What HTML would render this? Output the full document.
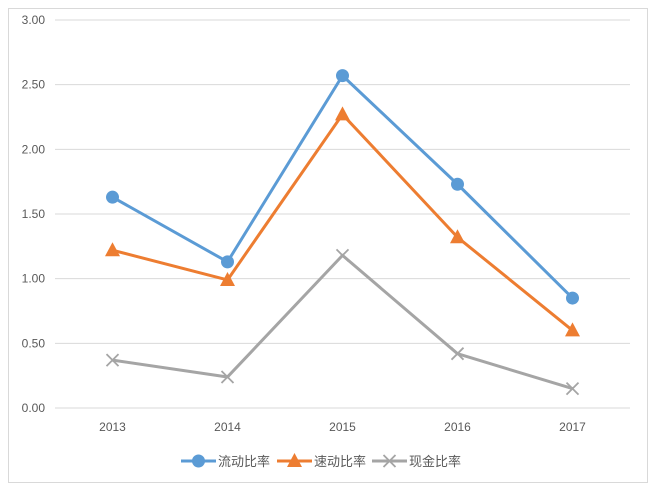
<!DOCTYPE html>
<html><head><meta charset="utf-8"><style>
body{margin:0;background:#fff;}
svg{display:block;font-family:"Liberation Sans","Noto Sans CJK SC",sans-serif;}
</style></head><body>
<svg id="chart" width="656" height="491">
<rect x="8.5" y="8.5" width="639" height="474" fill="#fff" stroke="#d9d9d9"/>
<g id="grid"></g><g id="yticks"></g><g id="xticks"></g><g id="series"></g><g id="legend"></g>
</svg>
<script>
const categories=["2013","2014","2015","2016","2017"];
const currentRatio=[1.63,1.13,2.57,1.73,0.85];
const quickRatio=[1.22,0.99,2.27,1.32,0.60];
const cashRatio=[0.37,0.24,1.18,0.42,0.15];
const yTicks=[0,0.5,1,1.5,2,2.5,3];
const seriesNames=["流动比率","速动比率","现金比率"];
const NS="http://www.w3.org/2000/svg";
const L=55,R=630,T=20,B=408;
const x=i=>L+(R-L)/categories.length*(i+0.5);
const y=v=>B-(B-T)*v/3;
function mk(tag,attrs,parent){const e=document.createElementNS(NS,tag);for(const k in attrs)e.setAttribute(k,attrs[k]);parent.appendChild(e);return e;}
const g=document.getElementById('grid'),yt=document.getElementById('yticks'),xt=document.getElementById('xticks'),sg=document.getElementById('series'),lg=document.getElementById('legend');
yTicks.forEach(v=>{
 const ln=mk('line',{x1:L,x2:R,y1:y(v),y2:y(v),stroke:'#d9d9d9','stroke-width':1},g);
 
 
 const t=mk('text',{x:45,y:y(v)+4,'text-anchor':'end','font-size':12,fill:'#595959'},yt);
 t.textContent=v.toFixed(2);
 
 
});
categories.forEach((c,i)=>{
 const t=mk('text',{x:x(i),y:431,'text-anchor':'middle','font-size':12,fill:'#595959'},xt);
 t.textContent=c;
 
 
});
const colors=["#5b9bd5","#ed7d31","#a5a5a5"];
function marker(type,cx,cy,col,parent){
 let m;
 if(type===0)m=mk('circle',{cx:cx,cy:cy,r:6.5,fill:col},parent);
 else if(type===1)m=mk('path',{d:`M${cx} ${cy-8}L${cx+7.5} ${cy+6}L${cx-7.5} ${cy+6}Z`,fill:col},parent);
 else m=mk('path',{d:`M${cx-6} ${cy-6}L${cx+6} ${cy+6}M${cx+6} ${cy-6}L${cx-6} ${cy+6}`,stroke:col,'stroke-width':1.8,fill:'none'},parent);
 return m;
}
[currentRatio,quickRatio,cashRatio].forEach((arr,s)=>{
 const pts=arr.map((v,i)=>x(i)+','+y(v)).join(' ');
 const pl=mk('polyline',{points:pts,fill:'none',stroke:colors[s],'stroke-width':3,'stroke-linejoin':'round'},sg);
 
 
 arr.forEach((v,i)=>{
  const m=marker(s,x(i),y(v),colors[s],sg);
  
  
 });
});
const lx=[181,277,372];
seriesNames.forEach((n,s)=>{
 const ln=mk('line',{x1:lx[s],x2:lx[s]+35,y1:461,y2:461,stroke:colors[s],'stroke-width':3},lg);
 
 
 const m=marker(s,lx[s]+17.5,461,colors[s],lg);
 
 
 const t=mk('text',{x:lx[s]+37,y:466,'font-size':13,fill:'#595959'},lg);
 t.textContent=n;
 
 
});
</script>
</body></html>
